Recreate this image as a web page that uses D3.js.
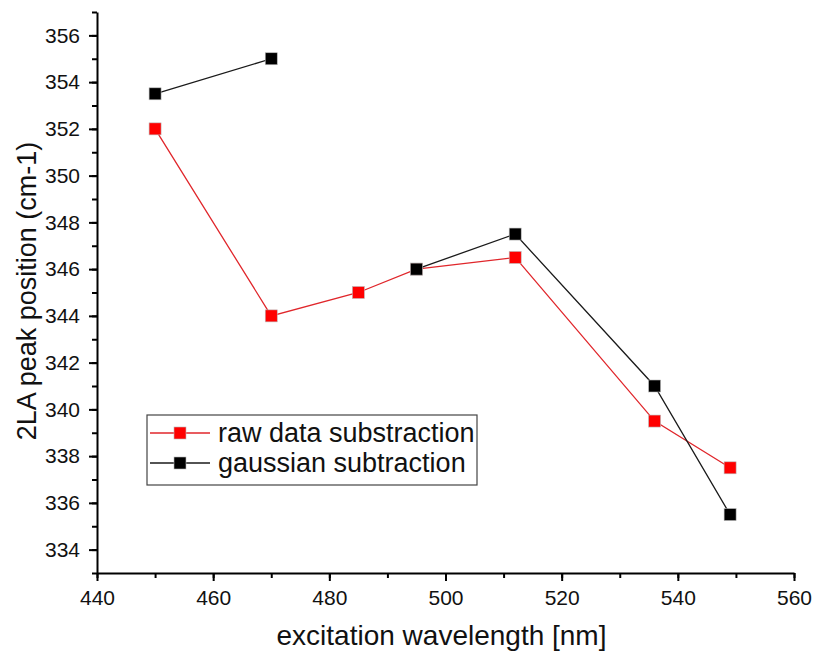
<!DOCTYPE html>
<html>
<head>
<meta charset="utf-8">
<script src="https://cdn.jsdelivr.net/npm/d3@7"></script>
<style>
    body { margin: 0; background: #fff; }
    svg text { font-family: "Liberation Sans", Arial, sans-serif; fill: #111; }
</style>
</head>
<body>
<div id="chart"></div>
<script>
'use strict';

// excitation wavelengths (nm)
var wavelengths = [450, 470, 485, 495, 512, 536, 549];
// 2LA peak position (cm-1), null = no point
var raw_data = [352, 344, 345, 346, 346.5, 339.5, 337.5];
var gaussian = [353.5, 355, null, 346, 347.5, 341, 335.5];

var x_ticks = [440, 460, 480, 500, 520, 540, 560];
var y_ticks = [334, 336, 338, 340, 342, 344, 346, 348, 350, 352, 354, 356];

var series_names = ['raw data substraction', 'gaussian subtraction'];
var series_colors = ['#ff0000', '#000000'];
var line_colors = ['#e0262b', '#1a1a1a'];

var width = 815, height = 655;
var margin = { left: 97, right: 21, top: 12, bottom: 82 };

var svg = d3.select('#chart')
    .append('svg')
    .attr('width', width)
    .attr('height', height);

var x = d3.scaleLinear().domain([440, 560]).range([margin.left, width - margin.right]);
var y = d3.scaleLinear().domain([333, 357]).range([height - margin.bottom, margin.top]);

// minor ticks first, then major ones on top
var x_minor = d3.range(440, 561, 10);
var y_minor = d3.range(333, 358, 1);

svg.append('g')
    .attr('transform', 'translate(0,' + (height - margin.bottom) + ')')
    .call(d3.axisBottom(x).tickValues(x_minor).tickSize(5).tickFormat(''))
    .call(function(g) { g.select('.domain').remove(); })
    .selectAll('line').attr('stroke', '#000').attr('stroke-width', 2);

svg.append('g')
    .attr('transform', 'translate(' + margin.left + ',0)')
    .call(d3.axisLeft(y).tickValues(y_minor).tickSize(5).tickFormat(''))
    .call(function(g) { g.select('.domain').remove(); })
    .selectAll('line').attr('stroke', '#000').attr('stroke-width', 2);

var x_axis = svg.append('g')
    .attr('transform', 'translate(0,' + (height - margin.bottom) + ')')
    .call(d3.axisBottom(x).tickValues(x_ticks).tickSize(8).tickSizeOuter(0).tickPadding(9));

var y_axis = svg.append('g')
    .attr('transform', 'translate(' + margin.left + ',0)')
    .call(d3.axisLeft(y).tickValues(y_ticks).tickSize(8).tickSizeOuter(0).tickPadding(9));

[x_axis, y_axis].forEach(function(ax) {
    ax.select('.domain').attr('stroke', '#000').attr('stroke-width', 2);
    ax.selectAll('.tick line').attr('stroke', '#000').attr('stroke-width', 2);
    ax.selectAll('.tick text')
        .attr('font-size', 21)
        .attr('font-family', '"Liberation Sans", Arial, sans-serif')
        .attr('fill', '#111');
});

// axis titles
svg.append('text')
    .attr('x', (x.range()[0] + x.range()[1]) / 2 - 4)
    .attr('y', 645)
    .attr('text-anchor', 'middle')
    .attr('font-size', 28)
    .text('excitation wavelength [nm]');

svg.append('text')
    .attr('transform', 'translate(36,291) rotate(-90)')
    .attr('text-anchor', 'middle')
    .attr('font-size', 27)
    .text('2LA peak position (cm-1)');

// series
var all_series = [raw_data, gaussian];
var mark_size = 12;

all_series.forEach(function(vals, i) {
    var pts = wavelengths.map(function(w, k) { return { x: w, y: vals[k] }; });

    var line = d3.line()
        .defined(function(d) { return d.y !== null; })
        .x(function(d) { return x(d.x); })
        .y(function(d) { return y(d.y); });

    svg.append('path')
        .datum(pts)
        .attr('d', line)
        .attr('fill', 'none')
        .attr('stroke', line_colors[i])
        .attr('stroke-width', 1.3);

    svg.selectAll('.mk' + i)
        .data(pts.filter(function(d) { return d.y !== null; }))
        .enter()
        .append('rect')
        .attr('class', 'mk' + i)
        .attr('x', function(d) { return x(d.x) - mark_size / 2; })
        .attr('y', function(d) { return y(d.y) - mark_size / 2; })
        .attr('width', mark_size)
        .attr('height', mark_size)
        .attr('fill', series_colors[i])
        .attr('stroke', '#bbb')
        .attr('stroke-width', 0.6);
});

// legend
var legend = svg.append('g').attr('transform', 'translate(147,415)');

legend.append('rect')
    .attr('width', 330)
    .attr('height', 70)
    .attr('fill', '#fff')
    .attr('stroke', '#444')
    .attr('stroke-width', 1.2);

series_names.forEach(function(name, i) {
    var cy = 18 + i * 30;
    legend.append('line')
        .attr('x1', 3).attr('x2', 63)
        .attr('y1', cy).attr('y2', cy)
        .attr('stroke', line_colors[i])
        .attr('stroke-width', 1.3);
    legend.append('rect')
        .attr('x', 33 - mark_size / 2)
        .attr('y', cy - mark_size / 2)
        .attr('width', mark_size)
        .attr('height', mark_size)
        .attr('fill', series_colors[i])
        .attr('stroke', '#bbb')
        .attr('stroke-width', 0.6);
    legend.append('text')
        .attr('x', 71)
        .attr('y', cy + 9)
        .attr('font-size', 27)
        .text(name);
});
</script>
</body>
</html>
